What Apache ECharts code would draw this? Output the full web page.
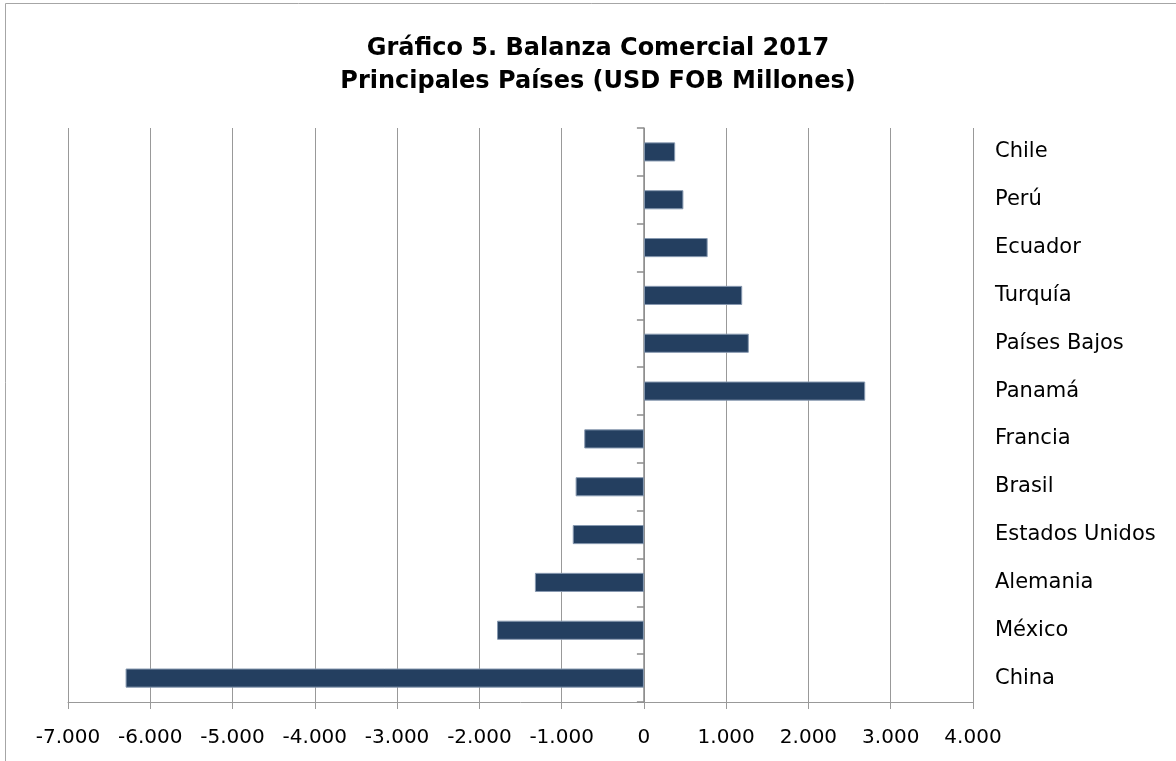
<!DOCTYPE html>
<html>
<head>
<meta charset="utf-8">
<script src="https://cdn.jsdelivr.net/npm/echarts@6/dist/echarts.min.js"></script>
<style>
  html, body { margin: 0; padding: 0; background: #fff; }
  #main { width: 1176px; height: 761px; }
</style>
</head>
<body>
<div id="main"></div>
<script>
// paises de abajo hacia arriba (el eje de categorias empieza abajo)
var paises = ['China', 'México', 'Alemania', 'Estados Unidos', 'Brasil', 'Francia',
              'Panamá', 'Países Bajos', 'Turquía', 'Ecuador', 'Perú', 'Chile'];
var balanza = [-6300, -1785, -1325, -865, -830, -725,
               2690, 1275, 1195, 775, 480, 380];
var ejeMin = -7000;
var ejeMax = 4000;
var ejePaso = 1000;

var fuente = '"DejaVu Sans", sans-serif';

function miles(v) {
  var s = Math.abs(v).toString().replace(/\B(?=(\d{3})+(?!\d))/g, '.');
  return (v < 0 ? '-' : '') + s;
}

var myChart = echarts.init(document.getElementById('main'));
var option = {
  animation: false,
  backgroundColor: '#fff',
  title: {
    text: 'Gráfico 5. Balanza Comercial 2017\nPrincipales Países (USD FOB Millones)',
    left: 593,
    textAlign: 'center',
    top: 27,
    textStyle: {
      fontFamily: fuente,
      fontSize: 24,
      fontWeight: 'bold',
      color: '#000',
      lineHeight: 33
    }
  },
  graphic: [{
    type: 'rect',
    shape: { x: 5.5, y: 3.5, width: 1300, height: 900 },
    style: { fill: 'none', stroke: '#a6a6a6', lineWidth: 1 },
    silent: true
  }],
  grid: { left: 68, right: 203, top: 128, bottom: 59 },
  xAxis: {
    type: 'value',
    min: ejeMin,
    max: ejeMax,
    interval: ejePaso,
    axisLine: { show: true, lineStyle: { color: '#999', width: 1 } },
    axisTick: { show: true, length: 7, lineStyle: { color: '#999' } },
    splitLine: { show: true, lineStyle: { color: '#999', width: 1 } },
    axisLabel: {
      formatter: miles,
      fontFamily: fuente,
      fontSize: 20,
      color: '#000',
      margin: 26
    }
  },
  yAxis: [{
    type: 'category',
    data: paises,
    position: 'left',
    axisLine: { show: true, onZero: true, lineStyle: { color: '#8c8c8c', width: 1.5 } },
    axisTick: { show: true, length: 7, lineStyle: { color: '#8c8c8c', width: 1.5 } },
    axisLabel: { show: false },
    splitLine: { show: false }
  }, {
    type: 'category',
    data: paises,
    position: 'right',
    axisLine: { show: false },
    axisTick: { show: false },
    axisLabel: {
      fontFamily: fuente,
      fontSize: 21,
      color: '#000',
      margin: 22,
      align: 'left',
      padding: [4, 0, 0, 0]
    }
  }],
  series: [{
    name: 'Balanza',
    type: 'bar',
    data: balanza,
    barWidth: '40%',
    itemStyle: {
      color: '#243f60',
      borderColor: '#8799b0',
      borderWidth: 1
    }
  }]
};
myChart.setOption(option);
</script>
</body>
</html>
